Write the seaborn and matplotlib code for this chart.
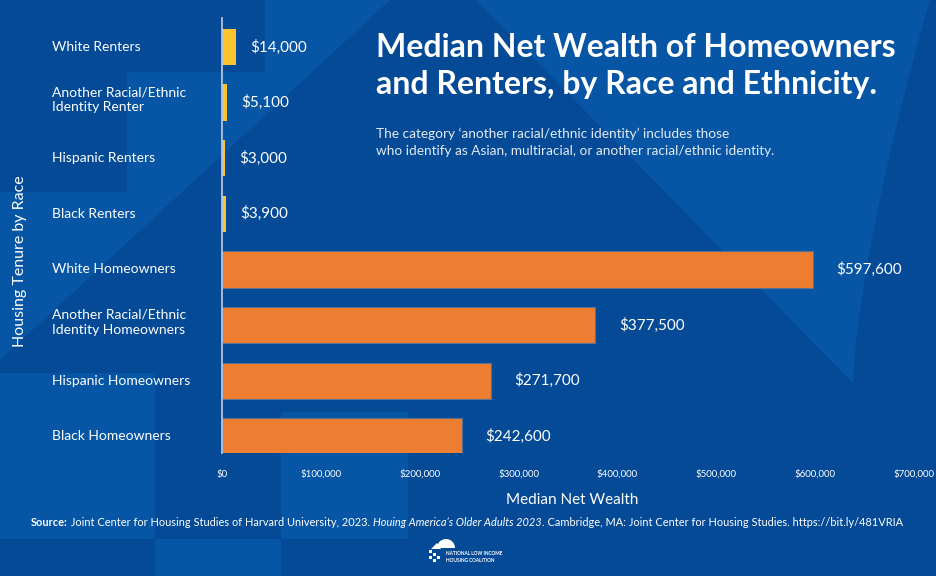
import matplotlib
matplotlib.use("Agg")
import matplotlib.pyplot as plt
import matplotlib.transforms as mtransforms
import seaborn as sns
import pandas as pd
import numpy as np
from matplotlib.patches import Polygon, Rectangle, Wedge

categories = ["White Renters", "Another Racial/Ethnic\nIdentity Renter", "Hispanic Renters",
              "Black Renters", "White Homeowners", "Another Racial/Ethnic\nIdentity Homeowners",
              "Hispanic Homeowners", "Black Homeowners"]
values = [14000, 5100, 3000, 3900, 597600, 377500, 271700, 242600]
tenure = ["Renter"] * 4 + ["Homeowner"] * 4
xticks = [0, 100000, 200000, 300000, 400000, 500000, 600000, 700000]

title = "Median Net Wealth of Homeowners\nand Renters, by Race and Ethnicity."
subtitle = ("The category \u2018another racial/ethnic identity\u2019 includes those\n"
            "who identify as Asian, multiracial, or another racial/ethnic identity.")
xlabel = "Median Net Wealth"
ylabel = "Housing Tenure by Race"

sns.set_theme(style="white")
plt.rcParams["font.family"] = ["Lato", "DejaVu Sans"]

W, H = 936, 576
BASE = "#044A97"
LIGHT = "#0656A5"

fig = plt.figure(figsize=(W / 100, H / 100), dpi=100)
fig.patch.set_facecolor(BASE)

# background geometry
bg = fig.add_axes([0, 0, 1, 1], zorder=-10)
bg.set_xlim(0, W)
bg.set_ylim(H, 0)
bg.axis("off")
bg.add_patch(Rectangle((0, 0), W, H, color=BASE, lw=0))
bg.add_patch(Polygon([(0, 360), (0, 192), (127, 192), (127, 72), (265, 72), (265, 0), (390, 0)],
                     closed=True, color=LIGHT, lw=0))
bg.add_patch(Rectangle((0, 373), 155, 166, color=LIGHT, lw=0))
bg.add_patch(Rectangle((281, 412), 127, 127, color=LIGHT, lw=0))
bg.add_patch(Rectangle((155, 539), 126, 40, color=LIGHT, lw=0))
arc_t = np.linspace(0, 1, 40)
arc = [(853 + (930 - 853) * t, 383 - 383 * (t ** 0.7)) for t in arc_t]
pts = [(476, 0), (853, 383)] + arc[1:] + [(476, 0)]
bg.add_patch(Polygon(pts, closed=True, color=LIGHT, lw=0))

# main chart
ax = fig.add_axes([222 / W, 1 - 453 / H, 692 / W, 435 / H])
ax.set_facecolor("none")
df = pd.DataFrame({"cat": categories, "val": values, "tenure": tenure})
sns.barplot(data=df, y="cat", x="val", hue="tenure", palette={"Renter": "#FDC42E", "Homeowner": "#ED7D31"},
            dodge=False, width=0.65, legend=False, orient="h", ax=ax, saturation=1)

for cont in ax.containers:
    is_owner = max(b.get_width() for b in cont) > 100000
    for b in cont:
        if is_owner:
            b.set_edgecolor("#5F7190")
            b.set_linewidth(0.8)
        else:
            b.set_linewidth(0)
    ax.bar_label(cont, fmt=lambda v: f"${v:,.0f}", padding=17 if is_owner else 10,
                 color="white", fontsize=11)

ax.set_xlim(0, 700000)
ax.set_ylim(7.3, -0.52)
ax.set_xticks(xticks)
ax.set_xticklabels([f"${v:,}" for v in xticks])
ax.tick_params(axis="x", length=0, pad=12, labelsize=7, labelcolor="white")
ax.tick_params(axis="y", length=0, labelleft=False)

# category labels, left-aligned at a fixed figure x, placed at data y positions
trans = mtransforms.blended_transform_factory(fig.transFigure, ax.transData)
for i, cat in enumerate(categories):
    off = -0.05 if "\n" in cat else 0
    ax.text(52 / W, i + off, cat, transform=trans, color="white", fontsize=10,
            ha="left", va="center", linespacing=1.3, clip_on=False)

ax.set_xlabel("")
ax.set_ylabel("")
for s in ["top", "right", "bottom"]:
    ax.spines[s].set_visible(False)
ax.spines["left"].set_color("#B7C3D9")
ax.spines["left"].set_linewidth(1.3)

fig.text(572 / W, 1 - 500 / H, xlabel, color="white", fontsize=11, ha="center", va="center")
fig.text(20 / W, 1 - 261 / H, ylabel, color="white", fontsize=11.5, ha="center", va="center", rotation=90)

fig.text(376 / W, 1 - 66 / H, title, color="white", fontsize=23, fontweight="bold",
         ha="left", va="center", linespacing=1.3)
fig.text(376 / W, 1 - 142.5 / H, subtitle, color="#E4EAF3", fontsize=9.8, ha="left", va="center",
         linespacing=1.5)

# source line with mixed styles
renderer = fig.canvas.get_renderer()
segments = [("Source:", "bold", "normal"),
            (" Joint Center for Housing Studies of Harvard University, 2023. ", "normal", "normal"),
            ("Houing America\u2019s Older Adults 2023", "normal", "italic"),
            (". Cambridge, MA: Joint Center for Housing Studies. https://bit.ly/481VRIA", "normal", "normal")]
x = 31
for txt, wgt, sty in segments:
    t = fig.text(x / W, 1 - 522 / H, txt, color="white", fontsize=7.95, fontweight=wgt, fontstyle=sty,
                 ha="left", va="center")
    bb = t.get_window_extent(renderer=renderer)
    x = bb.x1

# logo
lg = fig.add_axes([420 / W, 1 - 568 / H, 40 / W, 34 / H])
lg.set_xlim(420, 460)
lg.set_ylim(568, 534)
lg.axis("off")
lg.add_patch(Wedge((446, 548), 9, 180, 360, color="white", lw=0))
lg.add_patch(Polygon([(431, 549), (437, 543), (441, 549)], closed=True, color="white", lw=0))
for (sx, sy) in [(429, 550), (433, 553), (429, 556), (433, 559), (437, 556)]:
    lg.add_patch(Rectangle((sx, sy), 3, 3, color="white", lw=0))
fig.text(446 / W, 1 - 557 / H, "NATIONAL LOW INCOME\nHOUSING COALITION", color="white",
         fontsize=3.4, fontweight="bold", ha="left", va="center", linespacing=1.5)

fig.savefig("out.png", dpi=100, facecolor=fig.get_facecolor())
